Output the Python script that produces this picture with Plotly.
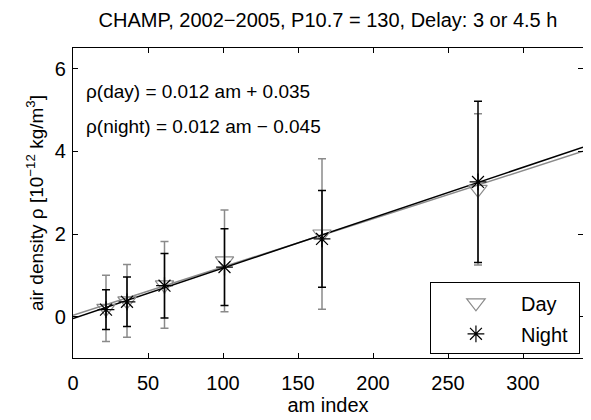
import plotly.graph_objects as go

am_day = [22, 36, 61, 101, 166, 270]
rho_day = [0.20, 0.38, 0.77, 1.35, 2.00, 3.08]
err_day = [0.80, 0.88, 1.05, 1.23, 1.82, 1.83]

am_night = [22, 36, 61, 101, 166, 270]
rho_night = [0.17, 0.36, 0.75, 1.20, 1.88, 3.26]
err_night = [0.48, 0.60, 0.78, 0.93, 1.17, 1.95]

fit_x = [0, 340]
fit_day = [0.035, 4.00]
fit_night = [-0.045, 4.10]

x_ticks = [0, 50, 100, 150, 200, 250, 300]
y_ticks = [0, 2, 4, 6]

FONT = "Liberation Sans, Arial, sans-serif"
GRAY = "#8a8a8a"

fig = go.Figure()
fig.add_trace(go.Scatter(x=fit_x, y=fit_day, mode="lines",
                         line=dict(color=GRAY, width=1.5), showlegend=False, hoverinfo="skip"))
fig.add_trace(go.Scatter(x=fit_x, y=fit_night, mode="lines",
                         line=dict(color="black", width=1.5), showlegend=False, hoverinfo="skip"))
fig.add_trace(go.Scatter(x=am_day, y=rho_day, mode="markers", name="Day\u00a0\u00a0", legendgroup="d",
                         marker=dict(symbol="triangle-down-open", size=16, color=GRAY,
                                     line=dict(width=1.2, color=GRAY)),
                         error_y=dict(type="data", array=err_day, visible=True,
                                      color=GRAY, thickness=1.5, width=4)))
fig.add_trace(go.Scatter(x=am_night, y=rho_night, mode="markers", name="Night\u00a0", legendgroup="n",
                         marker=dict(symbol="asterisk-open", size=14, color="black",
                                     line=dict(width=1.2, color="black")),
                         error_y=dict(type="data", array=err_night, visible=True,
                                      color="black", thickness=1.5, width=4)))

fig.add_annotation(text="ρ(day) = 0.012 am + 0.035", xref="paper", yref="y",
                   x=0.022, y=5.45, xanchor="left", yanchor="middle", showarrow=False,
                   font=dict(size=19, color="black", family=FONT))
fig.add_annotation(text="ρ(night) = 0.012 am − 0.045", xref="paper", yref="y",
                   x=0.022, y=4.6, xanchor="left", yanchor="middle", showarrow=False,
                   font=dict(size=19, color="black", family=FONT))

fig.update_layout(
    width=591, height=420,
    margin=dict(l=65, r=16, t=40, b=70),
    paper_bgcolor="white", plot_bgcolor="white",
    font=dict(family=FONT, size=19, color="black"),
    title=dict(text="CHAMP, 2002−2005, P10.7 = 130, Delay: 3 or 4.5 h",
               xref="paper", x=0.5, xanchor="center", y=0.972, yanchor="middle",
               font=dict(size=20, family=FONT, color="black")),
    showlegend=True,
    legend=dict(x=0.994, y=0.012, xanchor="right", yanchor="bottom",
                bordercolor="black", borderwidth=1, bgcolor="white",
                font=dict(size=20, family=FONT), itemwidth=80,
                tracegroupgap=2),
)
fig.update_xaxes(range=[0, 340], tickvals=x_ticks, ticks="inside", ticklen=5,
                 tickcolor="black", showline=True, linecolor="black", linewidth=1.2,
                 mirror="ticks", showgrid=False, zeroline=False, ticklabelstandoff=7,
                 title=dict(text="am index", standoff=0, font=dict(size=20)),
                 tickfont=dict(size=20))
fig.update_yaxes(range=[-1, 6.5], tickvals=y_ticks, ticks="inside", ticklen=5,
                 tickcolor="black", showline=True, linecolor="black", linewidth=1.2,
                 mirror="ticks", showgrid=False, zeroline=False, ticklabelstandoff=2,
                 title=dict(text="air density ρ [10<sup>−12</sup> kg/m<sup>3</sup>]",
                            standoff=6, font=dict(size=19)),
                 tickfont=dict(size=20))

fig.write_html("out.html")
